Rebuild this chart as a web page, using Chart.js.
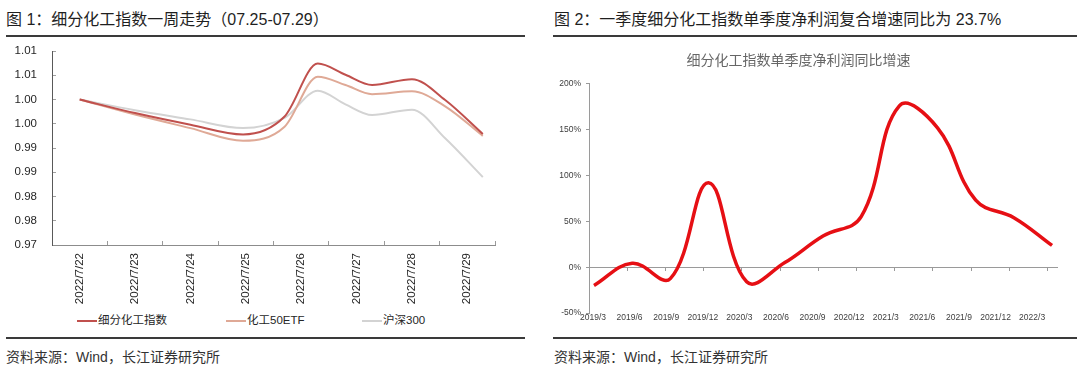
<!DOCTYPE html>
<html>
<head>
<meta charset="utf-8">
<script src="https://cdn.jsdelivr.net/npm/chart.js@4.4.0/dist/chart.umd.min.js"></script>
<style>
  body { margin: 0; width: 1080px; height: 372px; background: #fff; position: relative; overflow: hidden;
         font-family: "Liberation Sans", "Noto Sans CJK SC", sans-serif; color: #1f1f1f; }
  .cap { position: absolute; top: 10px; font-size: 16px; line-height: 20px; white-space: nowrap; }
  .rule { position: absolute; height: 1.5px; background: #3a3a3a; }
  .src { position: absolute; top: 348px; font-size: 14px; line-height: 18px; color: #333; white-space: nowrap; }
  canvas { position: absolute; }
  #legend1 { position: absolute; top: 312px; left: 0; height: 16px; font-size: 11.5px; color: #262626; }
  #legend1 span { position: absolute; white-space: nowrap; line-height: 16px; }
  #legend1 i { display: inline-block; width: 20px; height: 2.5px; vertical-align: middle; margin-right: 1px; }
</style>
</head>
<body>
<div class="cap" style="left:6px">图 1：细分化工指数一周走势（07.25-07.29）</div>
<div class="cap" style="left:554px">图 2：一季度细分化工指数单季度净利润复合增速同比为 23.7%</div>
<div class="rule" style="left:6px;top:35px;width:519px"></div>
<div class="rule" style="left:553px;top:35px;width:524px"></div>

<canvas id="c1" width="530" height="265" style="left:0;top:40px"></canvas>
<div id="legend1"></div>
<canvas id="c2" width="524" height="293" style="left:540px;top:40px"></canvas>

<div class="rule" style="left:6px;top:337px;width:519px"></div>
<div class="rule" style="left:553px;top:337px;width:524px"></div>
<div class="src" style="left:6px">资料来源：Wind，长江证券研究所</div>
<div class="src" style="left:554px">资料来源：Wind，长江证券研究所</div>

<script>
// chart 1: one week trend
const weekDates = ['2022/7/22', '2022/7/23', '2022/7/24', '2022/7/25', '2022/7/26', '2022/7/27', '2022/7/28', '2022/7/29'];
const weekPos = [0, 1, 2, 2.95, 3.7, 4.3, 4.8, 5.28, 6.0, 6.6, 7.28];
const fineChem = [1.000, 0.9972, 0.9948, 0.9928, 0.9965, 1.0074, 1.0051, 1.0030, 1.0042, 0.9999, 0.9929];
const chem50 = [1.000, 0.9969, 0.9941, 0.9915, 0.9944, 1.0047, 1.0030, 1.0011, 1.0017, 0.9986, 0.9925];
const hs300 = [1.000, 0.9978, 0.9959, 0.9941, 0.9962, 1.0018, 0.9990, 0.9968, 0.9979, 0.9920, 0.9840];
const yTicks1 = ['0.97', '0.98', '0.98', '0.99', '0.99', '1.00', '1.00', '1.01', '1.01'];

const seriesNames = ['细分化工指数', '化工50ETF', '沪深300'];
const seriesColors = ['#C0504D', '#DFA996', '#D3D3D3'];
const seriesValues = [fineChem, chem50, hs300];

// chart 2: quarterly net profit growth
const quarters = ['2019/3', '2019/6', '2019/9', '2019/12', '2020/3', '2020/6', '2020/9', '2020/12', '2021/3', '2021/6', '2021/9', '2021/12', '2022/3'];
const profitGrowth = [-20, 4.3, -12.5, 92, -16, 5, 34, 55, 176, 152, 73, 54, 23.7];
const growthTitle = '细分化工指数单季度净利润同比增速';

Chart.defaults.font.family = '"Liberation Sans", "Noto Sans CJK SC", sans-serif';
Chart.defaults.animation = false;

new Chart(document.getElementById('c1'), {
  type: 'line',
  data: {
    labels: weekDates,
    datasets: seriesValues.map((vals, k) => ({
      label: seriesNames[k],
      data: vals.map((v, i) => ({ x: weekPos[i], y: v })),
      xAxisID: 'xd',
      borderColor: seriesColors[k],
      borderWidth: 2,
      pointRadius: 0,
      cubicInterpolationMode: 'monotone',
      fill: false
    }))
  },
  options: {
    responsive: false,
    layout: { padding: { top: 11, right: 35 } },
    plugins: { legend: { display: false }, tooltip: { enabled: false } },
    scales: {
      x: {
        type: 'category',
        offset: true,
        grid: { offset: true, drawOnChartArea: false, tickLength: -4, color: '#9a9a9a' },
        border: { color: '#8c8c8c' },
        ticks: { minRotation: 90, maxRotation: 90, autoSkip: false, padding: 12, color: '#262626', font: { size: 11.5 } },
        afterFit: s => { s.height = 60; }
      },
      xd: { type: 'linear', axis: 'x', position: 'bottom', display: false, min: -0.5, max: 7.5, ticks: { display: false } },
      y: {
        min: 0.97,
        max: 1.01,
        ticks: { stepSize: 0.005, callback: (v, i) => yTicks1[i], padding: 19, color: '#262626', font: { size: 11.5 } },
        grid: { drawOnChartArea: false, tickLength: -4, color: '#a0a0a0' },
        border: { color: '#595959' },
        // label padding is large only to push labels left; don't let it shrink the plot
        afterFit: s => { s.width = 52; s.paddingTop = 7; s.paddingBottom = 7; }
      }
    }
  }
});

// html legend under chart 1
const legendX = [77, 226, 362];
const legend = document.getElementById('legend1');
seriesNames.forEach((name, k) => {
  const item = document.createElement('span');
  item.style.left = legendX[k] + 'px';
  item.innerHTML = '<i style="background:' + seriesColors[k] + '"></i>' + name;
  legend.appendChild(item);
});

const quarterTicks = s => { s.ticks = quarters.map((q, i) => ({ value: i })); };

new Chart(document.getElementById('c2'), {
  type: 'line',
  data: {
    datasets: [{
      label: growthTitle,
      data: profitGrowth.map((v, i) => ({ x: i, y: v })),
      xAxisID: 'xd',
      borderColor: '#E60F14',
      borderWidth: 3.5,
      pointRadius: 0,
      tension: 0.4
    }]
  },
  options: {
    responsive: false,
    layout: { padding: { right: 7 } },
    plugins: {
      legend: { display: false },
      tooltip: { enabled: false },
      title: {
        display: true,
        text: growthTitle,
        color: '#666',
        font: { size: 14, weight: 'normal' },
        padding: { top: 13, bottom: 14 }
      }
    },
    scales: {
      x: {
        type: 'linear',
        min: -0.109,
        max: 12.68,
        grid: { display: false, drawTicks: false },
        border: { display: false },
        afterBuildTicks: quarterTicks,
        ticks: { autoSkip: false, maxRotation: 0, callback: (v, i) => quarters[i], padding: 0, color: '#404040', font: { size: 8.5 } },
        afterFit: s => { s.height = 20; }
      },
      xz: {
        type: 'linear',
        axis: 'x',
        position: { y: 0 },
        min: 0,
        max: 12.25,
        afterBuildTicks: quarterTicks,
        ticks: { display: false },
        grid: { drawOnChartArea: false, tickLength: 3, color: '#9a9a9a' },
        border: { color: '#9a9a9a' }
      },
      xd: { type: 'linear', axis: 'x', position: 'bottom', display: false, min: -0.131, max: 12.13, ticks: { display: false } },
      y: {
        min: -50,
        max: 200,
        ticks: { stepSize: 50, callback: v => v + '%', padding: 5, color: '#404040', font: { size: 8.5 } },
        grid: { drawOnChartArea: false, tickLength: 3, color: '#9a9a9a' },
        border: { color: '#9a9a9a' },
        afterFit: s => { s.width = 49; }
      }
    }
  }
});
</script>
</body>
</html>
